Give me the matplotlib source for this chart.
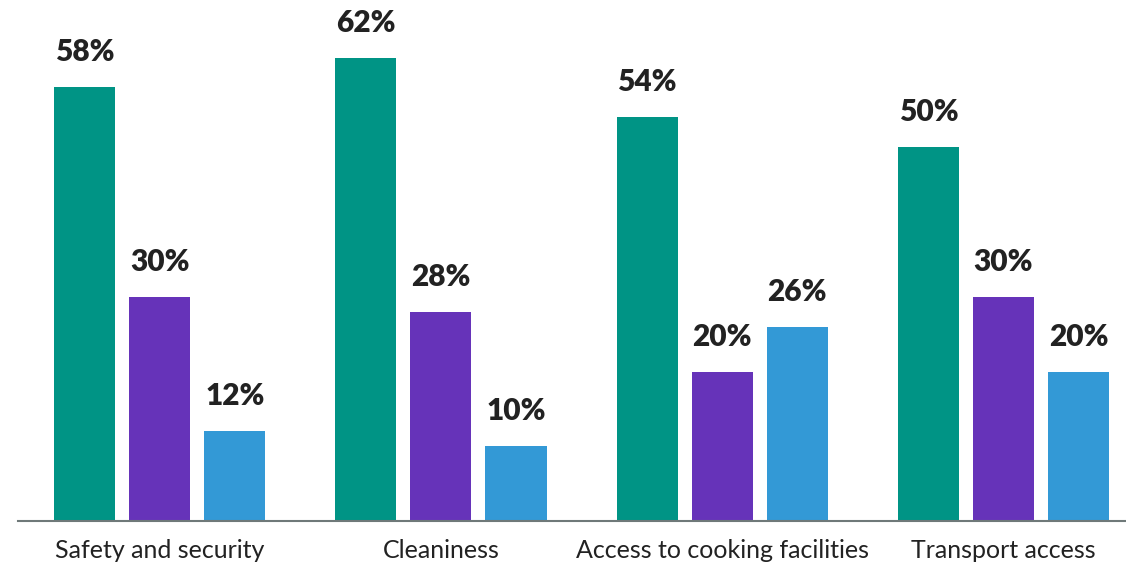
import numpy as np
import matplotlib.pyplot as plt

# Survey results by facility aspect
categories = ['Safety and security', 'Cleaniness', 'Access to cooking facilities', 'Transport access']
series_a = [58, 62, 54, 50]
series_b = [30, 28, 20, 30]
series_c = [12, 10, 26, 20]

colors = ['#009485', '#6633b9', '#3399d6']

plt.rcParams['font.family'] = ['Lato', 'DejaVu Sans']

fig = plt.figure(figsize=(11.26, 5.63), dpi=100)
ax = fig.add_axes([18 / 1126, 42 / 563, 1 - 18 / 1126, 521 / 563])

x = np.arange(len(categories))
width = 61 / 281
step = 75 / 281

for i, (vals, col) in enumerate(zip([series_a, series_b, series_c], colors)):
    pos = x + (i - 1) * step
    ax.bar(pos, vals, width=width, color=col, zorder=2)
    for p, v in zip(pos, vals):
        ax.annotate(f'{v}%', (p, v), xytext=(0, 26), textcoords='offset pixels',
                    ha='center', va='baseline', fontsize=21.5, fontweight='heavy',
                    color='#222222')

ax.set_xlim(-0.504, 3.436)
ax.set_ylim(0, 69.7)

for s in ['top', 'right', 'left']:
    ax.spines[s].set_visible(False)
ax.spines['bottom'].set_color('#6f7979')
ax.spines['bottom'].set_linewidth(1.5)

ax.set_yticks([])
ax.set_xticks(x)
ax.set_xticklabels(categories, fontsize=18, color='#222222')
ax.tick_params(axis='x', length=0, pad=13)

fig.savefig('out.png', dpi=100)
